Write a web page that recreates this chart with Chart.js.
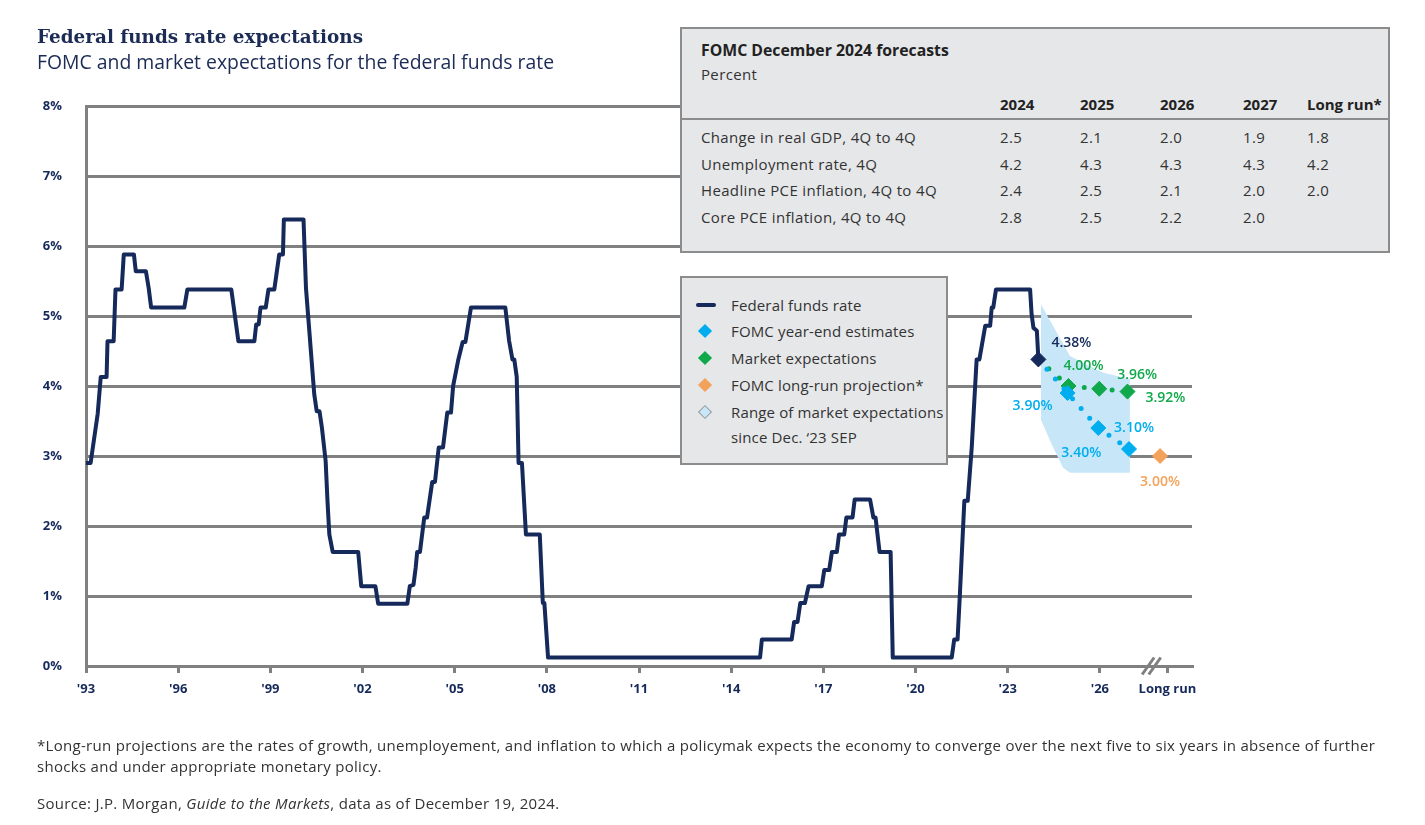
<!DOCTYPE html>
<html>
<head>
<meta charset="utf-8">
<script src="https://cdn.jsdelivr.net/npm/chart.js@4.4.1/dist/chart.umd.min.js"></script>
<style>
  body { margin: 0; background: #fff; font-family: "Open Sans", sans-serif; color: #333; }
  #wrap { position: relative; width: 1425px; height: 825px; overflow: hidden; }
  #chart { position: absolute; left: 0; top: 0; }
  .abs { position: absolute; white-space: nowrap; line-height: 20px; }
  .title { left: 37px; top: 27px; font-family: "DejaVu Serif", serif; font-weight: bold; font-size: 18.4px; color: #1b2b55; }
  .subtitle { left: 37px; top: 52px; font-size: 19.4px; color: #1b2b55; }
  .box { position: absolute; background: #e6e7e9; border: 2px solid #8c8c8c; box-sizing: border-box; }
  #table { left: 680px; top: 27px; width: 710px; height: 226px; font-size: 15px; letter-spacing: 0.35px; }
  #legend { left: 680px; top: 276px; width: 268px; height: 189px; font-size: 15px; letter-spacing: 0.15px; }
  .bold { font-weight: 700; color: #222; letter-spacing: 0; }
  .note { left: 37px; font-size: 15px; letter-spacing: 0.3px; color: #333; }
</style>
</head>
<body>
<div id="wrap">
  <canvas id="chart" width="1425" height="825"></canvas>
  <div class="abs title">Federal funds rate expectations</div>
  <div class="abs subtitle">FOMC and market expectations for the federal funds rate</div>
  <div id="table" class="box"></div>
  <div id="legend" class="box"></div>
  <div class="abs note" style="top:735px">*Long-run projections are the rates of growth, unemployement, and inflation to which a policymak expects the economy to converge over the next five to six years in absence of further</div>
  <div class="abs note" style="top:756px">shocks and under appropriate monetary policy.</div>
  <div class="abs note" style="top:793px">Source: J.P. Morgan, <i>Guide to the Markets</i>, data as of December 19, 2024.</div>
</div>
<script>
// x positions are in chart years as they sit on the axis
const tickYears = [1993, 1996, 1999, 2002, 2005, 2008, 2011, 2014, 2017, 2020, 2023, 2026, 2028.2];
const tickLabels = ["'93", "'96", "'99", "'02", "'05", "'08", "'11", "'14", "'17", "'20", "'23", "'26", "Long run"];
const axisBreakAt = 2027.68;

const fedX = [1993.00, 1993.15, 1993.38, 1993.48, 1993.67, 1993.70, 1993.90, 1993.96, 1994.16, 1994.23,
  1994.56, 1994.62, 1994.95, 1995.04, 1995.12, 1996.20, 1996.30, 1997.73, 1997.96, 1998.48,
  1998.54, 1998.62, 1998.68, 1998.85, 1998.94, 1999.13, 1999.29, 1999.41, 1999.44, 2000.08,
  2000.16, 2000.43, 2000.51, 2000.60, 2000.68, 2000.80, 2000.86, 2000.92, 2001.03, 2001.86,
  2001.96, 2002.42, 2002.51, 2003.46, 2003.54, 2003.66, 2003.73, 2003.78, 2003.87, 2004.01,
  2004.10, 2004.27, 2004.36, 2004.48, 2004.62, 2004.76, 2004.88, 2004.95, 2005.12, 2005.26,
  2005.35, 2005.53, 2006.65, 2006.77, 2006.88, 2006.94, 2007.02, 2007.08, 2007.19, 2007.32,
  2007.77, 2007.87, 2007.92, 2008.04, 2014.94, 2015.00, 2015.97, 2016.05, 2016.16, 2016.25,
  2016.40, 2016.52, 2016.95, 2017.03, 2017.19, 2017.28, 2017.44, 2017.51, 2017.68, 2017.75,
  2017.95, 2018.02, 2018.52, 2018.63, 2018.70, 2018.83, 2019.19, 2019.26, 2021.18, 2021.26,
  2021.37, 2021.45, 2021.59, 2021.70, 2021.83, 2021.99, 2022.08, 2022.27, 2022.43, 2022.48,
  2022.53, 2022.62, 2023.73, 2023.78, 2023.84, 2023.95, 2024.00];
const fedRate = [2.90, 2.90, 3.60, 4.13, 4.13, 4.64, 4.64, 5.38, 5.38, 5.88,
  5.88, 5.64, 5.64, 5.40, 5.12, 5.12, 5.38, 5.38, 4.64, 4.64,
  4.88, 4.88, 5.12, 5.12, 5.38, 5.38, 5.88, 5.88, 6.38, 6.38,
  5.40, 3.88, 3.64, 3.64, 3.40, 2.93, 2.36, 1.88, 1.63, 1.63,
  1.14, 1.14, 0.89, 0.89, 1.14, 1.16, 1.40, 1.63, 1.63, 2.12,
  2.12, 2.63, 2.63, 3.12, 3.12, 3.62, 3.62, 4.00, 4.38, 4.63,
  4.63, 5.12, 5.12, 4.65, 4.38, 4.38, 4.13, 2.90, 2.90, 1.88,
  1.88, 0.90, 0.90, 0.12, 0.12, 0.38, 0.38, 0.63, 0.63, 0.90,
  0.90, 1.14, 1.14, 1.37, 1.37, 1.63, 1.63, 1.88, 1.88, 2.12,
  2.12, 2.38, 2.38, 2.12, 2.12, 1.63, 1.63, 0.12, 0.12, 0.38,
  0.38, 1.07, 2.36, 2.36, 3.12, 4.38, 4.38, 4.86, 4.86, 5.12,
  5.12, 5.38, 5.38, 5.02, 4.83, 4.79, 4.38];

const fomcX = [2024.95, 2025.95, 2026.95];
const fomcRate = [3.90, 3.40, 3.10];
const marketX = [2024.98, 2025.98, 2026.90];
const marketRate = [4.00, 3.96, 3.92];
const longRunX = [2027.96];
const longRunRate = [3.00];

const rangeX = [2024.08, 2024.45, 2024.81, 2025.03, 2025.60, 2026.12, 2026.98];
const rangeHigh = [5.17, 4.88, 4.60, 4.43, 4.30, 4.19, 4.10];
const rangeLow = [3.52, 3.15, 2.83, 2.76, 2.76, 2.76, 2.76];

const tableYears = ["2024", "2025", "2026", "2027", "Long run*"];
const tableRows = ["Change in real GDP, 4Q to 4Q", "Unemployment rate, 4Q", "Headline PCE inflation, 4Q to 4Q", "Core PCE inflation, 4Q to 4Q"];
const tableValues = [
  ["2.5", "2.1", "2.0", "1.9", "1.8"],
  ["4.2", "4.3", "4.3", "4.3", "4.2"],
  ["2.4", "2.5", "2.1", "2.0", "2.0"],
  ["2.8", "2.5", "2.2", "2.0", ""]
];

const navy = "#15295a";
const blue = "#00aeef";
const green = "#0fa84a";
const orange = "#f3a25a";
const rangeFill = "#c7e7f9";
const gridGray = "#808080";

const legendItems = [
  { label: "Federal funds rate", kind: "line", color: navy },
  { label: "FOMC year-end estimates", kind: "diamond", color: blue },
  { label: "Market expectations", kind: "diamond", color: green },
  { label: "FOMC long-run projection*", kind: "diamond", color: orange },
  { label: "Range of market expectations<br>since Dec. \u201823 SEP", kind: "range", color: rangeFill }
];

// ---- table box ----
const table = document.getElementById("table");
function put(parent, html, left, centerY, cls) {
  const d = document.createElement("div");
  d.className = "abs" + (cls ? " " + cls : "");
  d.style.left = left + "px";
  d.style.top = (centerY - 10) + "px";
  d.innerHTML = html;
  parent.appendChild(d);
  return d;
}
const colLeft = [318, 398, 478, 561, 625];
put(table, "FOMC December 2024 forecasts", 19, 21, "bold").style.fontSize = "15.8px";
put(table, "Percent", 19, 45);
tableYears.forEach((y, i) => put(table, y, colLeft[i], 75, "bold"));
const rule = document.createElement("div");
rule.style.cssText = "position:absolute;left:0;right:0;top:89px;height:2px;background:#8c8c8c";
table.appendChild(rule);
tableRows.forEach((r, j) => {
  const cy = 108 + j * 26.5;
  put(table, r, 19, cy);
  tableValues[j].forEach((v, i) => put(table, v, colLeft[i], cy));
});

// ---- legend box ----
const legend = document.getElementById("legend");
const legendY = [27, 53, 80, 107, 134];
legendItems.forEach((it, i) => {
  const cy = legendY[i];
  const m = document.createElement("div");
  m.style.position = "absolute";
  if (it.kind === "line") {
    m.style.cssText += `left:14px;top:${cy - 2}px;width:20px;height:4px;border-radius:2px;background:${it.color}`;
  } else {
    const border = it.kind === "range" ? "1.5px solid #9a9a9a" : "none";
    m.style.cssText += `left:18px;top:${cy - 5}px;width:10px;height:10px;transform:rotate(45deg);box-sizing:border-box;background:${it.color};border:${border}`;
  }
  legend.appendChild(m);
  const t = put(legend, it.label, 49, cy);
  t.style.lineHeight = "25px";
  t.style.top = (cy - 12.5) + "px";
});

// ---- chart ----
const pts = (xs, ys) => xs.map((x, i) => ({ x: x, y: ys[i] }));
const fedData = pts(fedX, fedRate);
const lastFed = fedData[fedData.length - 1];
const fomcData = [lastFed].concat(pts(fomcX, fomcRate));
const marketData = [lastFed].concat(pts(marketX, marketRate));

// dataset indexes: 0 latest rate, 1 long run, 2 FOMC, 3 market, 4 fed funds, 5/6 range
const valueLabels = [
  { ds: 0, i: 0, dx: 33, dy: -16, color: navy },
  { ds: 3, i: 1, dx: 15, dy: -20, color: green },
  { ds: 3, i: 2, dx: 38, dy: -14, color: green },
  { ds: 3, i: 3, dx: 38, dy: 6, color: green },
  { ds: 2, i: 1, dx: -35, dy: 13, color: blue },
  { ds: 2, i: 2, dx: -17, dy: 25, color: blue },
  { ds: 2, i: 3, dx: 5, dy: -21, color: blue },
  { ds: 1, i: 0, dx: 0, dy: 26, color: orange }
];

const overlayPlugin = {
  id: "overlay",
  afterDatasetsDraw(chart) {
    const ctx = chart.ctx;
    ctx.save();
    ctx.font = "600 14px 'Open Sans'";
    ctx.textAlign = "center";
    ctx.textBaseline = "middle";
    valueLabels.forEach(l => {
      const el = chart.getDatasetMeta(l.ds).data[l.i];
      const v = chart.data.datasets[l.ds].data[l.i].y;
      ctx.fillStyle = l.color;
      ctx.fillText(v.toFixed(2) + "%", el.x + l.dx, el.y + l.dy);
    });
    ctx.restore();
  },
  afterDraw(chart) {
    const ctx = chart.ctx;
    const bx = chart.scales.x.getPixelForValue(axisBreakAt);
    const by = chart.scales.y.getPixelForValue(0);
    ctx.save();
    ctx.strokeStyle = gridGray;
    ctx.lineWidth = 3;
    [-3.3, 3.3].forEach(off => {
      ctx.beginPath();
      ctx.moveTo(bx + off - 6, by + 8.5);
      ctx.lineTo(bx + off + 6, by - 8.5);
      ctx.stroke();
    });
    ctx.restore();
  }
};

Chart.defaults.font.family = "'Open Sans', sans-serif";

const diamond = color => ({
  pointStyle: "rectRot",
  pointBackgroundColor: color,
  pointBorderColor: color,
  pointBorderWidth: 1
});

new Chart(document.getElementById("chart"), {
  type: "line",
  data: {
    datasets: [
      Object.assign({
        label: "Latest federal funds rate",
        data: [lastFed],
        showLine: false,
        pointRadius: 7.5
      }, diamond(navy)),
      Object.assign({
        label: "FOMC long-run projection",
        data: pts(longRunX, longRunRate),
        showLine: false,
        pointRadius: 7.5
      }, diamond(orange)),
      Object.assign({
        label: "FOMC year-end estimates",
        data: fomcData,
        borderColor: blue,
        borderWidth: 5,
        borderDash: [0, 13],
        borderCapStyle: "round",
        pointRadius: [0, 7.5, 7.5, 7.5]
      }, diamond(blue)),
      Object.assign({
        label: "Market expectations",
        data: marketData,
        borderColor: green,
        borderWidth: 5,
        borderDash: [0, 14],
        borderCapStyle: "round",
        pointRadius: [0, 7.5, 7.5, 7.5]
      }, diamond(green)),
      {
        label: "Federal funds rate",
        data: fedData,
        borderColor: navy,
        borderWidth: 4,
        borderJoinStyle: "round",
        pointRadius: 0
      },
      {
        label: "Range high",
        data: pts(rangeX, rangeHigh),
        borderWidth: 0,
        pointRadius: 0,
        backgroundColor: rangeFill,
        fill: "+1"
      },
      {
        label: "Range low",
        data: pts(rangeX, rangeLow),
        borderWidth: 0,
        pointRadius: 0,
        fill: false
      }
    ]
  },
  options: {
    responsive: false,
    animation: false,
    events: [],
    layout: { padding: { left: 20, top: 106, right: 233, bottom: 119 } },
    plugins: { legend: { display: false }, tooltip: { enabled: false } },
    scales: {
      x: {
        type: "linear",
        min: 1993,
        max: 2029,
        afterBuildTicks: axis => { axis.ticks = tickYears.map(v => ({ value: v })); },
        afterFit: axis => { axis.height = 40; },
        ticks: {
          autoSkip: false,
          maxRotation: 0,
          padding: 8,
          color: navy,
          font: { size: 13, weight: "bold" },
          callback: (v, i) => tickLabels[i]
        },
        grid: { drawOnChartArea: false, drawTicks: true, tickLength: 7, color: gridGray, lineWidth: 3 },
        border: { display: true, color: gridGray, width: 3 }
      },
      y: {
        min: 0,
        max: 8,
        afterFit: axis => { axis.width = 66; },
        ticks: {
          stepSize: 1,
          padding: 24,
          color: navy,
          font: { size: 13, weight: "bold" },
          callback: v => v + "%"
        },
        grid: { color: gridGray, lineWidth: 3, drawTicks: false },
        border: { display: true, color: gridGray, width: 3 }
      }
    }
  },
  plugins: [overlayPlugin]
});
</script>
</body>
</html>
